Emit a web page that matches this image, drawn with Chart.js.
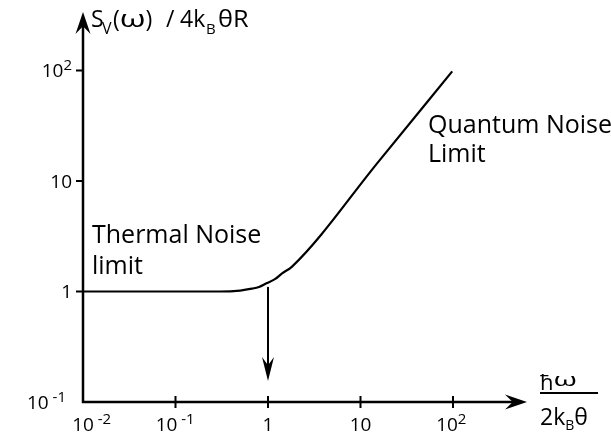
<!DOCTYPE html>
<html>
<head>
<meta charset="utf-8">
<script src="https://cdn.jsdelivr.net/npm/chart.js@4/dist/chart.umd.min.js"></script>
<style>
  html, body { margin: 0; padding: 0; background: #fff; }
  canvas { display: block; }
</style>
</head>
<body>
<canvas id="c" width="611" height="438"></canvas>
<script>
// ---- data ----
const freqRatio   = [0.01, 0.3, 0.5, 0.67, 0.8, 0.95, 1.2, 1.42, 1.82, 15.9, 98];
const noiseRatio  = [1.0, 1.0, 1.02, 1.06, 1.1, 1.18, 1.3, 1.46, 1.68, 15.2, 98];
const xTickValues = [0.01, 0.1, 1, 10, 100];
const xTickBase   = ['10', '10', '1', '10', '10'];
const xTickExp    = [' -2', ' -1', '', '', '2'];
const yTickValues = [0.1, 1, 10, 100];
const yTickBase   = ['10', '1', '10', '10'];
const yTickExp    = [' -1', '', '', '2'];
const arrowX      = [1];
const arrowFromTo = [1.1, 0.155];
const xRange      = [0.01, 631];
const yRange      = [0.1, 338];

// label placement tweaks (style, not data)
const xLabelShift = [0, -9, 0, 0, -6];

const FONT = '"Open Sans", "DejaVu Sans", sans-serif';

function partWidth(ctx, p) {
  ctx.font = p.size + 'px ' + FONT;
  return ctx.measureText(p.t).width * (p.sx || 1);
}
function drawRich(ctx, x, y, parts) {
  let cx = x;
  for (const p of parts) {
    if (p.x !== undefined) cx = p.x;
    ctx.font = p.size + 'px ' + FONT;
    const w = ctx.measureText(p.t).width;
    ctx.save();
    ctx.translate(cx, y + (p.dy || 0));
    ctx.scale(p.sx || 1, 1);
    ctx.fillText(p.t, 0, 0);
    ctx.restore();
    cx += w * (p.sx || 1) + (p.gap || 0);
  }
  return cx - x;
}
function richWidth(ctx, parts) {
  let w = 0;
  for (const p of parts) w += partWidth(ctx, p) + (p.gap || 0);
  return w;
}

function arrowHead(ctx, tx, ty, dirx, diry, L, W) {
  const px = -diry, py = dirx;
  ctx.beginPath();
  ctx.moveTo(tx, ty);
  ctx.lineTo(tx - dirx * L + px * W / 2, ty - diry * L + py * W / 2);
  ctx.lineTo(tx - dirx * L * 0.65, ty - diry * L * 0.65);
  ctx.lineTo(tx - dirx * L - px * W / 2, ty - diry * L - py * W / 2);
  ctx.closePath();
  ctx.fill();
}

function tickParts(base, exp) {
  const parts = [{ t: base, size: 19 }];
  if (exp) parts.push({ t: exp, size: 15, dy: -7 });
  return parts;
}

const decor = {
  id: 'decor',
  afterDraw(chart) {
    const ctx = chart.ctx;
    const xs = chart.scales.x, ys = chart.scales.y;
    const ca = chart.chartArea;
    ctx.save();
    ctx.strokeStyle = '#000';
    ctx.fillStyle = '#000';
    ctx.lineCap = 'butt';

    // axes
    ctx.lineWidth = 2.5;
    const ox = xs.getPixelForValue(xRange[0]);
    const oy = ys.getPixelForValue(yRange[0]);
    ctx.beginPath();
    ctx.moveTo(ox - 1.2, oy); ctx.lineTo(ca.right - 10, oy);
    ctx.moveTo(ox, oy + 1.2); ctx.lineTo(ox, ca.top + 10);
    ctx.stroke();
    arrowHead(ctx, ca.right, oy, 1, 0, 22, 15);
    arrowHead(ctx, ox, ca.top, 0, -1, 22, 15);

    // tick marks
    ctx.lineWidth = 2;
    ctx.beginPath();
    for (const v of xTickValues.slice(1)) {
      const px = xs.getPixelForValue(v);
      ctx.moveTo(px, oy - 6); ctx.lineTo(px, oy + 6);
    }
    for (const v of yTickValues.slice(1)) {
      const py = ys.getPixelForValue(v);
      ctx.moveTo(ox - 7, py); ctx.lineTo(ox, py);
    }
    ctx.stroke();

    // tick labels
    ctx.textBaseline = 'alphabetic';
    ctx.textAlign = 'left';
    xTickValues.forEach((v, i) => {
      const parts = tickParts(xTickBase[i], xTickExp[i]);
      const baseW = partWidth(ctx, parts[0]);
      const px = xs.getPixelForValue(v);
      drawRich(ctx, px - baseW / 2 + xLabelShift[i], oy + 29, parts);
    });
    yTickValues.forEach((v, i) => {
      const parts = tickParts(yTickBase[i], yTickExp[i]);
      const w = richWidth(ctx, parts);
      const py = ys.getPixelForValue(v);
      const right = i === 0 ? 66 : 72;
      drawRich(ctx, right - w, py + 7, parts);
    });

    // downward arrow at x = 1
    const ax = xs.getPixelForValue(arrowX[0]);
    const ay0 = ys.getPixelForValue(arrowFromTo[0]);
    const ay1 = ys.getPixelForValue(arrowFromTo[1]);
    ctx.lineWidth = 2;
    ctx.beginPath();
    ctx.moveTo(ax, ay0); ctx.lineTo(ax, ay1 - 10);
    ctx.stroke();
    arrowHead(ctx, ax, ay1, 0, 1, 24, 12);

    // annotations
    drawRich(ctx, 92, 243, [{ t: 'Thermal Noise', size: 25 }]);
    drawRich(ctx, 92, 274, [{ t: 'limit', size: 25 }]);
    drawRich(ctx, 428, 133, [{ t: 'Quantum Noise', size: 25 }]);
    drawRich(ctx, 428, 162, [{ t: 'Limit', size: 25 }]);

    // y-axis title  S_V(ω) / 4k_BθR
    drawRich(ctx, 91, 27, [
      { t: 'S', size: 23 },
      { t: 'V', size: 16, dy: 7, x: 102 },
      { t: '(', size: 23, x: 113 },
      { t: '\u03C9', size: 23, sx: 1.45 },
      { t: ')', size: 23 },
      { t: '/', size: 23, x: 166 },
      { t: '4k', size: 23, x: 180 },
      { t: 'B', size: 15, dy: 7, x: 206 },
      { t: '\u03B8', size: 23, x: 218, sx: 1.1 },
      { t: 'R', size: 23, sx: 1.1 }
    ]);

    // x-axis title  ħω / 2k_Bθ
    drawRich(ctx, 540, 390, [
      { t: '\u0127', size: 22 },
      { t: '\u03C9', size: 19, dy: -4, sx: 1.6 }
    ]);
    ctx.lineWidth = 2;
    ctx.beginPath();
    ctx.moveTo(540, 393); ctx.lineTo(598, 393);
    ctx.stroke();
    drawRich(ctx, 540, 425, [
      { t: '2k', size: 23 },
      { t: 'B', size: 14, dy: 5 },
      { t: '\u03B8', size: 23 }
    ]);
    ctx.restore();
  }
};

new Chart(document.getElementById('c'), {
  type: 'line',
  data: {
    datasets: [{
      data: freqRatio.map((x, i) => ({ x, y: noiseRatio[i] })),
      borderColor: '#000',
      borderWidth: 2.2,
      pointRadius: 0,
      fill: false,
      tension: 0.4,
      cubicInterpolationMode: 'monotone'
    }]
  },
  options: {
    responsive: false,
    animation: false,
    devicePixelRatio: 1,
    layout: { padding: { top: 12, right: 84, left: 0, bottom: 0 } },
    plugins: { legend: { display: false }, tooltip: { enabled: false } },
    scales: {
      x: {
        type: 'logarithmic',
        min: xRange[0], max: xRange[1],
        afterBuildTicks: s => { s.ticks = xTickValues.map(v => ({ value: v })); },
        afterFit: s => { s.height = 36; s.paddingLeft = 0; s.paddingRight = 0; },
        ticks: { display: false },
        grid: { display: false },
        border: { display: false }
      },
      y: {
        type: 'logarithmic',
        min: yRange[0], max: yRange[1],
        afterBuildTicks: s => { s.ticks = yTickValues.map(v => ({ value: v })); },
        afterFit: s => { s.width = 83; s.paddingTop = 0; s.paddingBottom = 0; },
        ticks: { display: false },
        grid: { display: false },
        border: { display: false }
      }
    }
  },
  plugins: [decor]
});
</script>
</body>
</html>
